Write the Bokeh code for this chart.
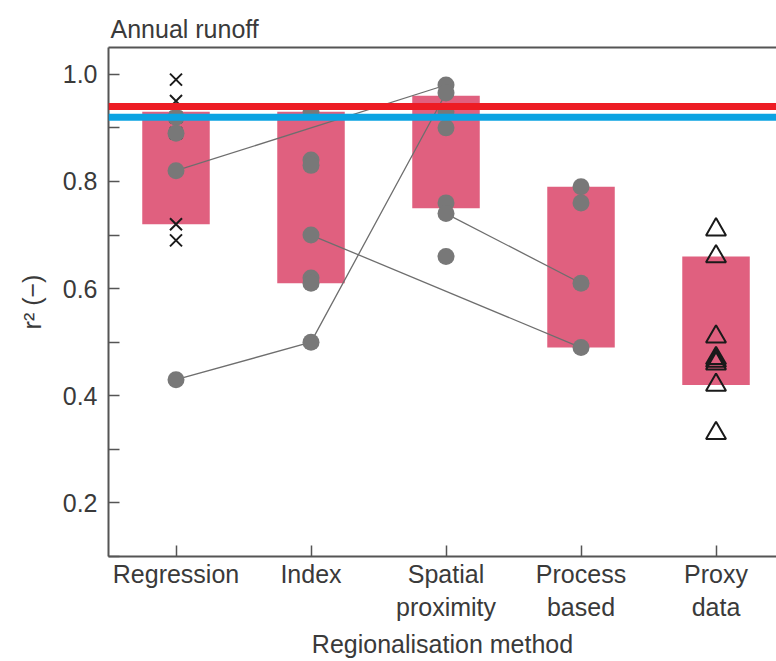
from bokeh.plotting import figure
from bokeh.models import (ColumnDataSource, FixedTicker, LinearAxis, Span, Range1d)
from bokeh.embed import file_html
from bokeh.resources import INLINE

# ---- data ----
categories = ["Regression", "Index", "Spatial\nproximity", "Process\nbased", "Proxy\ndata"]
bar_low = [0.72, 0.61, 0.75, 0.49, 0.42]
bar_high = [0.93, 0.93, 0.96, 0.79, 0.66]

regression_dots = [0.92, 0.89, 0.82, 0.43]
index_dots = [0.93, 0.84, 0.83, 0.70, 0.62, 0.61, 0.50]
spatial_dots = [0.98, 0.965, 0.93, 0.90, 0.76, 0.74, 0.66]
process_dots = [0.79, 0.76, 0.61, 0.49]
regression_crosses = [0.99, 0.95, 0.92, 0.89, 0.72, 0.69]
proxy_triangles = [0.71, 0.66, 0.51, 0.47, 0.465, 0.46, 0.42, 0.33]

# links between the same study across methods: (category index, value)
links = [
    [(0, 0.82), (2, 0.98)],
    [(0, 0.43), (1, 0.50), (2, 0.965)],
    [(1, 0.70), (3, 0.49)],
    [(2, 0.74), (3, 0.61)],
]
ref_red = 0.94
ref_blue = 0.92

y_major = [0.2, 0.4, 0.6, 0.8, 1.0]
y_minor = [0.1, 0.3, 0.5, 0.7, 0.9]

FONT = "Liberation Sans"
TXT = "#3a3a3a"
AX = "#555555"
FS = "25px"

pos = list(range(1, len(categories) + 1))

p = figure(width=776, height=661, output_backend="svg", toolbar_location=None,
           x_range=Range1d(0.5, 5.448), y_range=Range1d(0.1, 1.05),
           min_border_left=108, min_border_right=0, min_border_top=47,
           min_border_bottom=105,
           title="Annual runoff")
p.outline_line_color = None
p.xgrid.visible = False
p.ygrid.visible = False
p.background_fill_color = "white"

p.title.align = "left"
p.title.offset = 2
p.title.standoff = 10
p.title.text_font = FONT
p.title.text_font_size = FS
p.title.text_font_style = "normal"
p.title.text_color = TXT

# bars
bars = ColumnDataSource(dict(x=pos, bottom=bar_low, top=bar_high))
p.vbar(x="x", bottom="bottom", top="top", width=0.5, source=bars,
       fill_color="#E0607F", line_color=None)

# link lines
p.multi_line(xs=[[pos[c] for c, v in l] for l in links],
             ys=[[v for c, v in l] for l in links],
             line_color="#6e6e6e", line_width=1.3)

# crosses (behind the dots)
p.scatter([pos[0]] * len(regression_crosses), regression_crosses, marker="x",
          size=17, line_color="#1a1a1a", line_width=2)

# dots
dot_groups = [(0, regression_dots), (1, index_dots), (2, spatial_dots), (3, process_dots)]
dx, dy = [], []
for c, vals in dot_groups:
    dx += [pos[c]] * len(vals)
    dy += vals
p.scatter(dx, dy, marker="circle", size=17, fill_color="#787878", line_color=None)

# triangles
p.scatter([pos[4]] * len(proxy_triangles), proxy_triangles, marker="triangle",
          size=20, fill_color=None, line_color="#1a1a1a", line_width=2)

# reference lines
p.add_layout(Span(location=ref_red, dimension="width", line_color="#ED1C24", line_width=7))
p.add_layout(Span(location=ref_blue, dimension="width", line_color="#0BA3E2", line_width=7))

# axes
xa = p.xaxis[0]
xa.ticker = FixedTicker(ticks=pos)
xa.major_label_overrides = {i: c for i, c in zip(pos, categories)}
xa.major_tick_in = 11
xa.major_tick_out = 0
xa.major_label_standoff = 3
xa.axis_label = "Regionalisation method"
xa.axis_label_standoff = 6

ya = p.yaxis[0]
ya.ticker = FixedTicker(ticks=y_major, minor_ticks=y_minor)
ya.major_label_overrides = {v: f"{v:.1f}" for v in y_major}
ya.major_tick_in = 11
ya.major_tick_out = 0
ya.minor_tick_in = 11
ya.minor_tick_out = 0
ya.major_label_standoff = 11
ya.axis_label = "r² (−)"
ya.axis_label_standoff = 14

for ax in (xa, ya):
    ax.axis_line_color = AX
    ax.axis_line_width = 2
    ax.major_tick_line_color = AX
    ax.major_tick_line_width = 1.5
    ax.minor_tick_line_color = AX if ax is ya else None
    ax.minor_tick_line_width = 1.5
    ax.major_label_text_font = FONT
    ax.major_label_text_font_size = FS
    ax.major_label_text_color = TXT
    ax.axis_label_text_font = FONT
    ax.axis_label_text_font_size = FS
    ax.axis_label_text_font_style = "normal"
    ax.axis_label_text_color = TXT

# top frame line
top = LinearAxis(ticker=FixedTicker(ticks=[]), axis_line_color=AX, axis_line_width=2,
                 major_tick_line_color=None, minor_tick_line_color=None,
                 major_label_text_font_size="0px")
p.add_layout(top, "above")

open("out.html", "w").write(file_html(p, INLINE))
